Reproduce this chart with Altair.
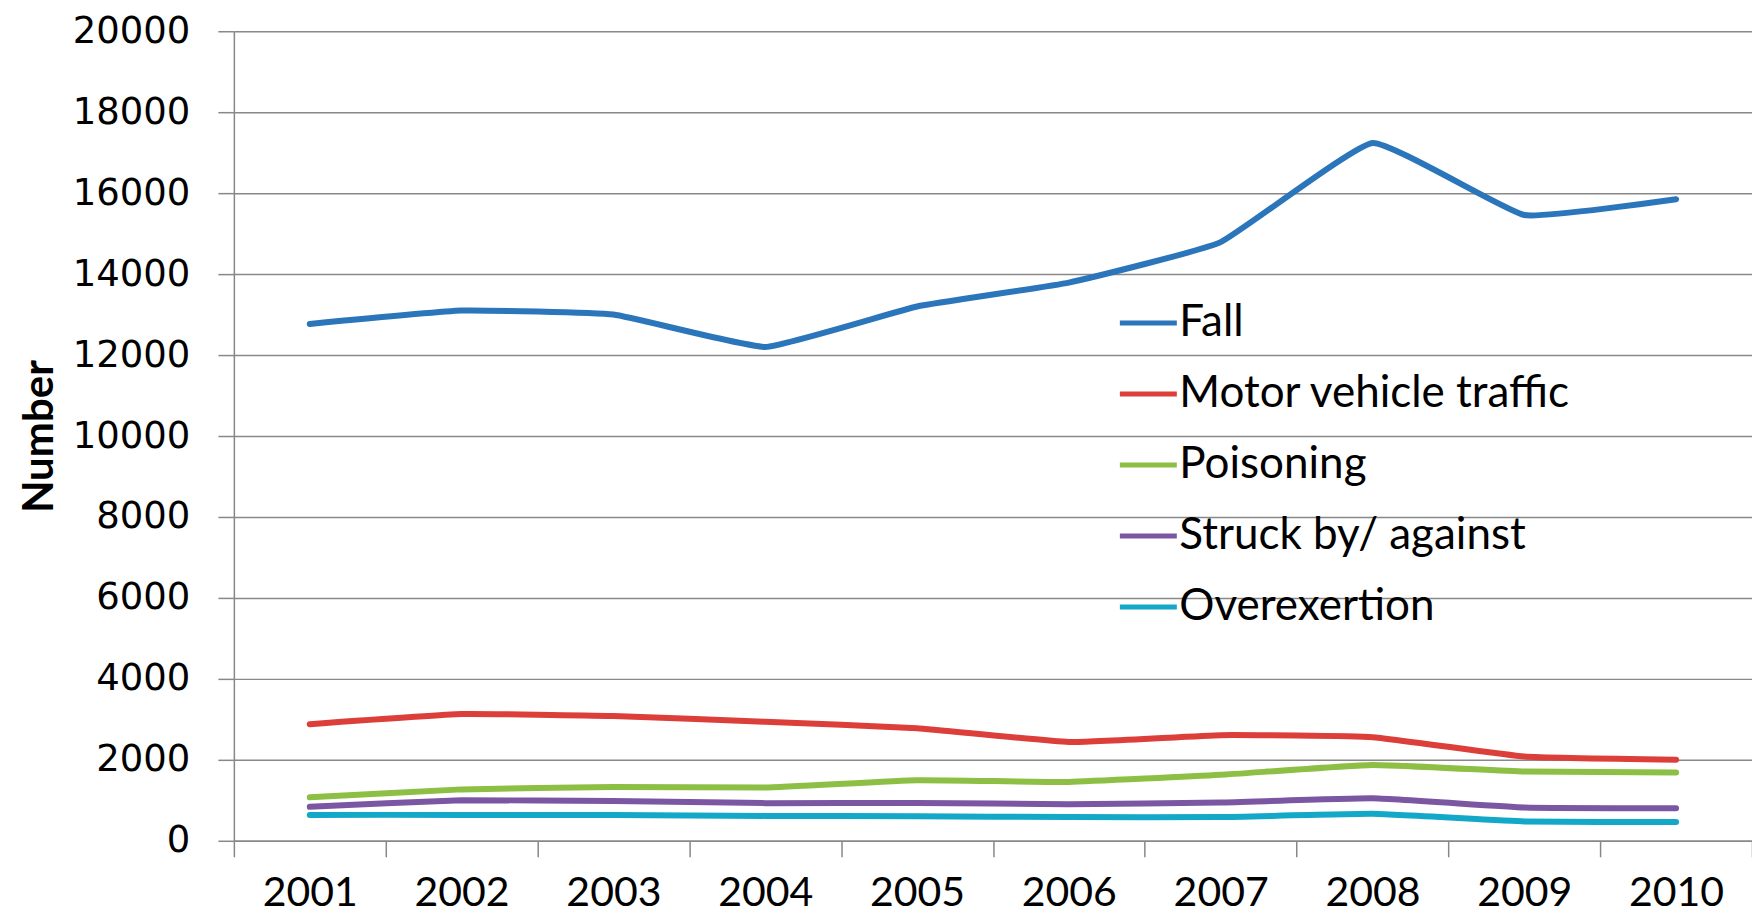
import altair as alt
import pandas as pd

years = ["2001", "2002", "2003", "2004", "2005", "2006", "2007", "2008", "2009", "2010"]
series_names = ["Fall", "Motor vehicle traffic", "Poisoning", "Struck by/ against", "Overexertion"]
fall = [12770, 13100, 13000, 12200, 13200, 13790, 14790, 17240, 15460, 15850]
motor = [2880, 3130, 3080, 2940, 2780, 2440, 2610, 2560, 2080, 2000]
poison = [1075, 1270, 1330, 1315, 1495, 1455, 1630, 1875, 1710, 1690]
struck = [840, 1000, 985, 930, 935, 905, 945, 1050, 825, 806]
overex = [640, 640, 638, 615, 605, 588, 585, 665, 478, 462]
colors = ["#2B75BB", "#DC3E39", "#8CBF44", "#7B57A3", "#14A8C8"]

values = [fall, motor, poison, struck, overex]
rows = []
for name, vals in zip(series_names, values):
    for y, v in zip(years, vals):
        rows.append({"year": y, "series": name, "value": v})
df = pd.DataFrame(rows)

grid_color = "#888888"

chart = alt.Chart(df).mark_line(
    strokeWidth=6, interpolate="cardinal", tension=0.65, strokeCap="round", strokeJoin="round"
).encode(
    x=alt.X(
        "year:O",
        scale=alt.Scale(type="band", paddingInner=0, paddingOuter=0),
        bandPosition=0.5,
        axis=alt.Axis(
            title=None,
            tickBand="extent",
            grid=False,
            labelAngle=0,
            labelFont="Lato",
            labelFontSize=41,
            labelColor="#000000",
            labelPadding=17,
            tickSize=16,
            tickColor=grid_color,
            tickWidth=1.5,
            domainColor=grid_color,
            domainWidth=1.5,
        ),
    ),
    y=alt.Y(
        "value:Q",
        scale=alt.Scale(domain=[0, 20000], nice=False),
        axis=alt.Axis(
            title="Number",
            values=list(range(0, 20001, 2000)),
            format="d",
            labelFont="DejaVu Sans",
            labelFontSize=37,
            labelColor="#000000",
            labelPadding=28,
            tickSize=16,
            tickColor=grid_color,
            tickWidth=1.5,
            domainColor=grid_color,
            domainWidth=1.5,
            gridColor=grid_color,
            gridWidth=1.5,
            titleFont="Lato",
            titleFontWeight="bold",
            titleFontSize=42,
            titleColor="#000000",
            titleAngle=270,
            titleAlign="center",
            titleBaseline="middle",
            titleX=-194,
            titleY=405,
        ),
    ),
    color=alt.Color(
        "series:N",
        sort=series_names,
        scale=alt.Scale(domain=series_names, range=colors),
        legend=alt.Legend(
            title=None,
            orient="none",
            legendX=884,
            legendY=261,
            symbolType="stroke",
            symbolSize=3249,
            symbolStrokeWidth=5,
            labelFont="Lato",
            labelFontSize=44,
            labelColor="#000000",
            labelOffset=0,
            rowPadding=18,
            labelLimit=700,
        ),
    ),
).properties(
    width=1519,
    height=810,
    autosize=alt.AutoSizeParams(type="none"),
    padding={"left": 226, "top": 23, "right": 0, "bottom": 75},
    background="white",
).configure_view(stroke=None)

chart.save("out.html", embed_options={"renderer": "svg", "actions": False})
